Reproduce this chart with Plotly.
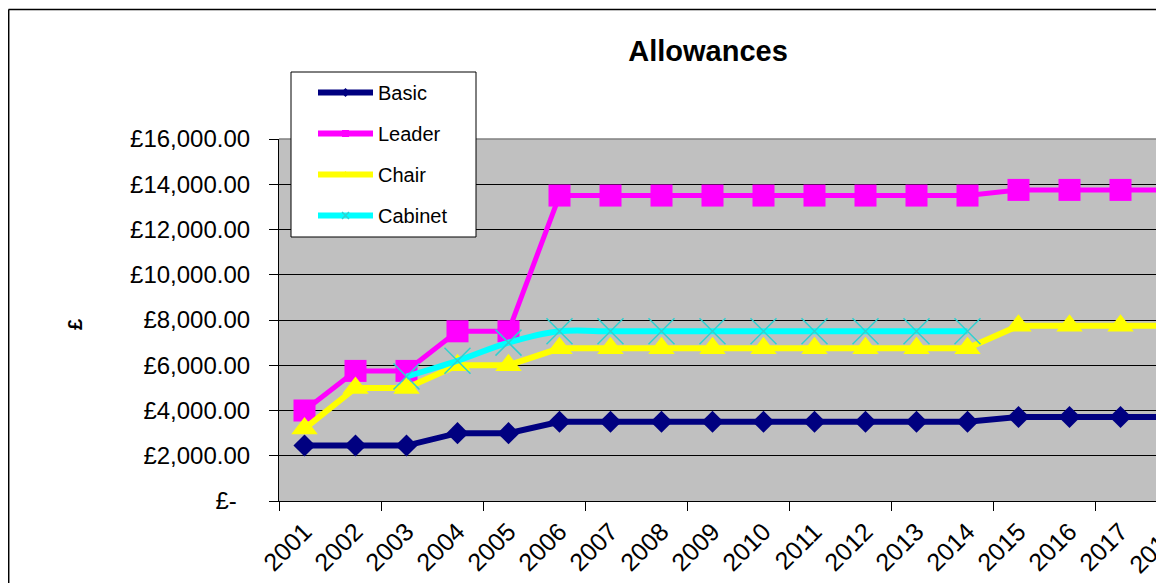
import plotly.graph_objects as go

# ---------------- data ----------------
years = list(range(2001, 2019))
basic = [2450, 2450, 2450, 3000, 3000, 3500, 3500, 3500, 3500, 3500, 3500, 3500, 3500, 3500, 3710, 3710, 3710, 3710]
leader = [4000, 5750, 5750, 7500, 7500, 13500, 13500, 13500, 13500, 13500, 13500, 13500, 13500, 13500, 13750, 13750, 13750, 13750]
chair = [3200, 5000, 5000, 6000, 6000, 6750, 6750, 6750, 6750, 6750, 6750, 6750, 6750, 6750, 7750, 7750, 7750, 7750]
cabinet = [None, None, 5500, 6200, 7000, 7500, 7500, 7500, 7500, 7500, 7500, 7500, 7500, 7500, None, None, None, None]
y_ticks = [0, 2000, 4000, 6000, 8000, 10000, 12000, 14000, 16000]
y_labels = ["£-\u00a0\u00a0", "£2,000.00", "£4,000.00", "£6,000.00", "£8,000.00",
            "£10,000.00", "£12,000.00", "£14,000.00", "£16,000.00"]

# ---------------- layout geometry ----------------
# the page body has an 8px margin, so the figure starts at (8, 8) in the window
OFF = 8
W, H = 1164 - 2 * OFF, 583 - OFF
L, T, B, R = 279 - OFF, 139 - OFF, 82, 0
PW, PH = W - L - R, H - T - B
PX_PER_YEAR = 51.0
x_range = [2000.5, 2000.5 + PW / PX_PER_YEAR]


def px_x(px):  # window pixel -> paper x
    return (px - OFF - L) / PW


def px_y(py):  # window pixel -> paper y
    return (H - B - (py - OFF)) / PH


FONT = "Liberation Sans, Arial, sans-serif"

series = [
    ("Basic", basic, "#000080", "diamond", 17, 6, "linear", "#000080", 0),
    ("Leader", leader, "#FF00FF", "square", 22, 5, "linear", "#FF00FF", 0),
    ("Chair", chair, "#FFFF00", "triangle-up", 23, 6, "linear", "#FFFF00", 0),
    ("Cabinet", cabinet, "#00FFFF", "x-thin", 26, 6, "spline", "#30D0D0", 1.5),
]

fig = go.Figure()
for name, vals, col, sym, msize, lw, shape, mcol, mlw in series:
    fig.add_trace(go.Scatter(
        x=years, y=vals, name=name, mode="lines+markers", showlegend=False,
        line=dict(color=col, width=lw, shape=shape),
        marker=dict(symbol=sym, size=msize, color=mcol, line=dict(color=mcol, width=mlw)),
    ))
# legend entries (small markers as in the original legend)
for name, vals, col, sym, msize, lw, shape, mcol, mlw in series:
    fig.add_trace(go.Scatter(
        x=[None], y=[None], name=name, mode="lines+markers", legendgroup=name,
        line=dict(color=col, width=6),
        marker=dict(symbol=sym, size=7, color=mcol, line=dict(color=mcol, width=mlw)),
    ))

boundaries = [y - 0.5 for y in years[::2]] + [years[-1] + 1.5]

fig.update_layout(
    width=W, height=H,
    margin=dict(l=L, r=R, t=T, b=B, autoexpand=False),
    paper_bgcolor="white",
    plot_bgcolor="#C0C0C0",
    font=dict(family=FONT, color="black"),
    title=dict(text="<b>Allowances</b>", x=(708 - OFF) / W, xanchor="center",
               y=1 - (51 - OFF) / H, yanchor="middle", yref="container",
               font=dict(size=29, family=FONT, color="black")),
    showlegend=True,
    legend=dict(x=px_x(313), y=px_y(73), xanchor="left", yanchor="top",
                bgcolor="rgba(0,0,0,0)", borderwidth=0, font=dict(size=20, family=FONT),
                tracegroupgap=12, itemwidth=55, traceorder="grouped"),
    xaxis=dict(range=x_range, tickmode="array", tickvals=years, ticktext=[str(y) for y in years],
               tickangle=-45, ticks="", showgrid=False, zeroline=False, automargin=False,
               showline=True, linecolor="black", linewidth=1, ticklabelstandoff=5,
               tickfont=dict(size=25, family=FONT, color="black"),
               minor=dict(tickmode="array", tickvals=boundaries, ticks="outside", ticklen=9,
                          tickcolor="black", tickwidth=1, showgrid=False)),
    yaxis=dict(range=[0, 16000], tickmode="array", tickvals=y_ticks, ticktext=y_labels,
               ticks="outside", ticklen=9, tickcolor="black", showgrid=True, gridcolor="black",
               gridwidth=1, zeroline=False, showline=True, linecolor="black", linewidth=1,
               ticklabelstandoff=14, automargin=False,
               tickfont=dict(size=24, family=FONT, color="black")),
    shapes=[
        # plot-area top border
        dict(type="line", xref="paper", yref="paper", x0=0, x1=1, y0=1, y1=1,
             line=dict(color="#808080", width=1.5)),
        # outer chart border
        dict(type="line", xref="paper", yref="paper", x0=px_x(8.5), x1=px_x(1170),
             y0=px_y(9.5), y1=px_y(9.5), line=dict(color="black", width=1.5)),
        dict(type="line", xref="paper", yref="paper", x0=px_x(8.7), x1=px_x(8.7),
             y0=px_y(9.5), y1=px_y(590), line=dict(color="black", width=1.5)),
        # legend box
        dict(type="rect", xref="paper", yref="paper", x0=px_x(291), x1=px_x(476),
             y0=px_y(237), y1=px_y(72), fillcolor="white", layer="above",
             line=dict(color="black", width=1)),
    ],
    annotations=[
        dict(text="<b>£</b>", xref="paper", yref="paper", x=px_x(62), y=px_y(325),
             textangle=-90, showarrow=False, font=dict(size=20, family=FONT, color="black")),
        dict(text=str(years[-1]), xref="paper", yref="paper",
             x=(years[-1] - x_range[0]) / (x_range[1] - x_range[0]), y=0, yshift=-15, xshift=14,
             textangle=-45, xanchor="right", yanchor="top", showarrow=False,
             font=dict(size=25, family=FONT, color="black")),
    ],
)

fig.write_html("out.html")
